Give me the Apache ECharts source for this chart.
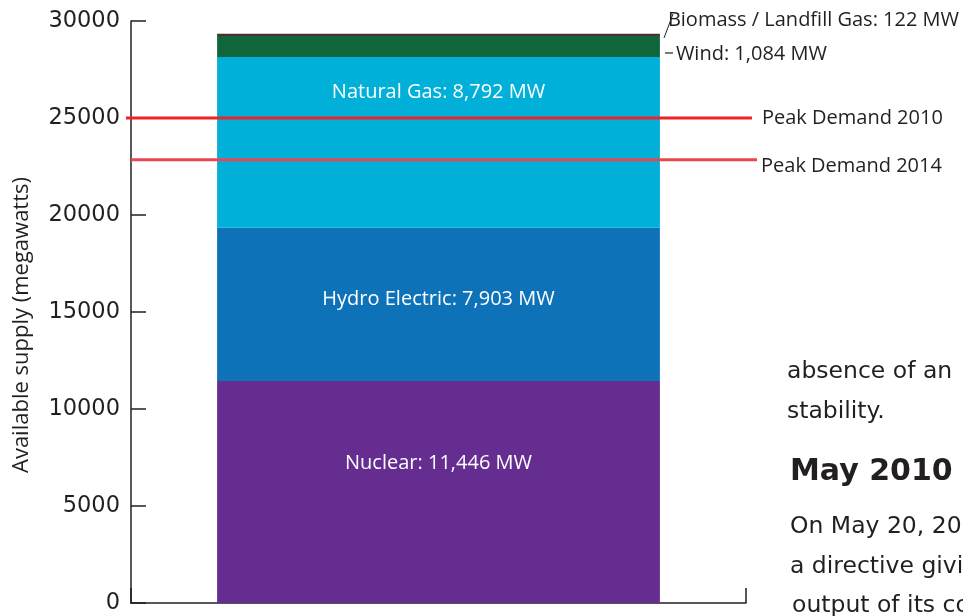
<!DOCTYPE html>
<html>
<head>
<meta charset="utf-8">
<script src="https://cdn.jsdelivr.net/npm/echarts@6/dist/echarts.min.js"></script>
<style>html,body{margin:0;padding:0;background:#fff}#c{width:963px;height:616px}</style>
</head>
<body>
<div id="c"></div>
<script>
// Data
const categories = ['Ontario'];
const sourceNames = ['Nuclear', 'Hydro Electric', 'Natural Gas', 'Wind', 'Biomass / Landfill Gas'];
const sourceValues = [11446, 7903, 8792, 1084, 122];
const sourceLabels = ['Nuclear: 11,446 MW', 'Hydro Electric: 7,903 MW', 'Natural Gas: 8,792 MW', 'Wind: 1,084 MW', 'Biomass / Landfill Gas: 122 MW'];
const demandNames = ['Peak Demand 2010', 'Peak Demand 2014'];
const demandValues = [25000, 22850];
const yTicks = [0, 5000, 10000, 15000, 20000, 25000, 30000];
const sideText = ['absence of an', 'stability.', 'May 2010', 'On May 20, 20', 'a directive givi', 'output of its co'];

const colors = ['#652d90', '#0e72b9', '#00b0d8', '#11653a', '#4a3030'];
const TXT = '#231f20';
const FONT = '"Open Sans", sans-serif';

const inLabel = [
  {position: 'insideTop', distance: 72},
  {position: 'insideTop', distance: 62},
  {position: 'insideTop', distance: 25},
  {position: 'right', distance: 16, offset: [0, 8], color: TXT},
  {position: 'right', distance: 8, offset: [0, -15], color: TXT}
];

const barSeries = sourceValues.map((v, i) => ({
  name: sourceNames[i],
  type: 'bar',
  stack: 'supply',
  barWidth: '72%',
  xAxisIndex: 0,
  yAxisIndex: 0,
  data: [v],
  itemStyle: {color: colors[i]},
  label: Object.assign({
    show: true,
    formatter: sourceLabels[i],
    color: '#fff',
    fontFamily: FONT,
    fontSize: 20
  }, inLabel[i]),
  emphasis: {disabled: true}
}));

const lineExtents = [[0, 0.992], [0.0079, 1]];
const lineColors = ['#ee2328', '#e8474f'];
const lineSeries = demandValues.map((v, i) => ({
  name: demandNames[i],
  type: 'line',
  xAxisIndex: 1,
  yAxisIndex: 1,
  showSymbol: false,
  symbol: 'none',
  z: 5,
  data: [[lineExtents[i][0], v], [lineExtents[i][1], v]],
  lineStyle: {color: lineColors[i], width: 3},
  endLabel: {
    show: true,
    formatter: '{a}',
    distance: i === 0 ? 10 : 4,
    offset: [0, i === 0 ? 0 : 7],
    color: TXT,
    fontFamily: FONT,
    fontSize: 20
  },
  emphasis: {disabled: true}
}));

const sideY = [372, 412, 472, 527, 567, 606];
const sideX = [787, 787, 790, 790, 790, 792];
const graphics = sideText.map((t, i) => ({
  type: 'text',
  x: sideX[i],
  y: sideY[i],
  style: {
    text: t,
    x: 0, y: 0,
    fill: TXT,
    font: (i === 2 ? 'bold 30px' : '23.5px') + ' "DejaVu Sans", sans-serif',
    verticalAlign: 'middle'
  }
}));
// leader lines for small segments
graphics.push({type: 'line', shape: {x1: 664, y1: 38, x2: 673, y2: 14}, style: {stroke: TXT, lineWidth: 1}});
graphics.push({type: 'line', shape: {x1: 665, y1: 53, x2: 673, y2: 53}, style: {stroke: TXT, lineWidth: 1.2}});

const yMin = yTicks[0], yMax = yTicks[yTicks.length - 1];
const chart = echarts.init(document.getElementById('c'));
chart.setOption({
  animation: false,
  grid: [
    {left: 131, right: 217, top: 21, bottom: 13},
    {left: 126, right: 206, top: 21, bottom: 13}
  ],
  xAxis: [{
    type: 'category',
    gridIndex: 0,
    data: categories,
    axisLine: {lineStyle: {color: TXT, width: 1.5}},
    axisTick: {show: true, inside: true, length: 15, lineStyle: {color: TXT, width: 1.5}},
    axisLabel: {show: false}
  }, {
    type: 'value', gridIndex: 1, min: 0, max: 1, show: false
  }],
  yAxis: [{
    type: 'value',
    gridIndex: 0,
    min: yMin,
    max: yMax,
    interval: yTicks[1] - yTicks[0],
    name: 'Available supply (megawatts)',
    nameLocation: 'middle',
    nameGap: 98,
    nameTextStyle: {color: TXT, fontFamily: FONT, fontSize: 22, padding: [0, 26, 0, 0]},
    axisLine: {show: true, lineStyle: {color: TXT, width: 1.5}},
    axisTick: {show: true, inside: true, length: 15, lineStyle: {color: TXT, width: 1.5}},
    axisLabel: {color: TXT, fontFamily: '"DejaVu Sans", sans-serif', fontSize: 22.5, margin: 11, formatter: v => String(v)},
    splitLine: {show: false}
  }, {
    type: 'value', gridIndex: 1, min: yMin, max: yMax, show: false
  }],
  series: barSeries.concat(lineSeries),
  graphic: graphics
});
</script>
</body>
</html>
